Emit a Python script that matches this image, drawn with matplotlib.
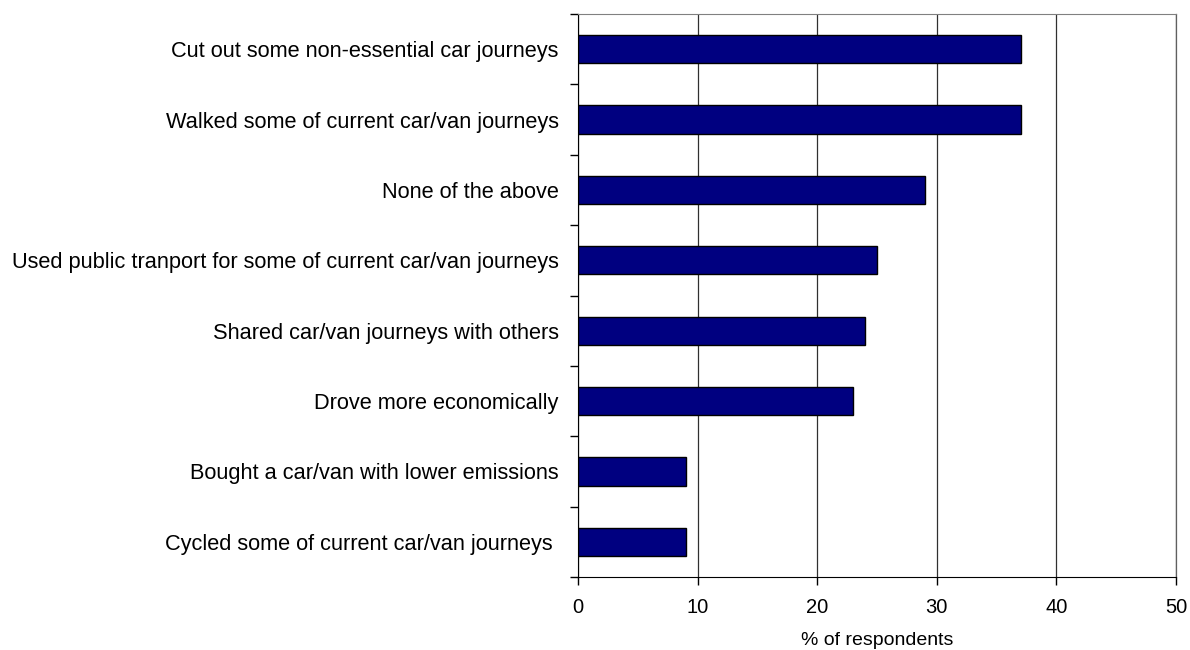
import matplotlib
matplotlib.use("Agg")
import matplotlib.pyplot as plt

categories = [
    "Cut out some non-essential car journeys",
    "Walked some of current car/van journeys",
    "None of the above",
    "Used public tranport for some of current car/van journeys",
    "Shared car/van journeys with others",
    "Drove more economically",
    "Bought a car/van with lower emissions",
    "Cycled some of current car/van journeys ",
]
values = [37, 37, 29, 25, 24, 23, 9, 9]
x_ticks = [0, 10, 20, 30, 40, 50]

plt.rcParams["font.family"] = ["Liberation Sans", "DejaVu Sans"]

fig = plt.figure(figsize=(11.9, 6.5), dpi=100)
ax = fig.add_axes([578 / 1190, 1 - 577 / 650, 598 / 1190, 563 / 650])

n = len(categories)
pos = [n - 1 - i for i in range(n)]
ax.barh(pos, values, height=0.4, color="#000080", edgecolor="black",
        linewidth=1.0, zorder=3)

ax.set_xlim(0, 50)
ax.set_ylim(-0.5, n - 0.5)
ax.set_xticks(x_ticks)
ax.set_xticklabels([str(t) for t in x_ticks], fontsize=14.5)
ax.set_yticks(pos)
ax.set_yticklabels(categories, fontsize=15.7)
ax.tick_params(axis="y", length=0, pad=14)
ax.set_yticks([i - 0.5 for i in range(n + 1)], minor=True)
ax.tick_params(axis="y", which="minor", length=6, width=1, direction="out")
ax.tick_params(axis="x", length=6, width=1, direction="out", pad=9)
ax.set_xlabel("% of respondents", fontsize=14, labelpad=11)

ax.xaxis.grid(True, color="#303030", linewidth=0.9, zorder=0)
ax.set_axisbelow(True)

ax.spines["left"].set_color("black")
ax.spines["bottom"].set_color("black")
ax.spines["top"].set_color("#808080")
ax.spines["right"].set_color("#606060")
ax.spines["right"].set_linewidth(0.9)

fig.savefig("out.png", dpi=100)
plt.close("all")
